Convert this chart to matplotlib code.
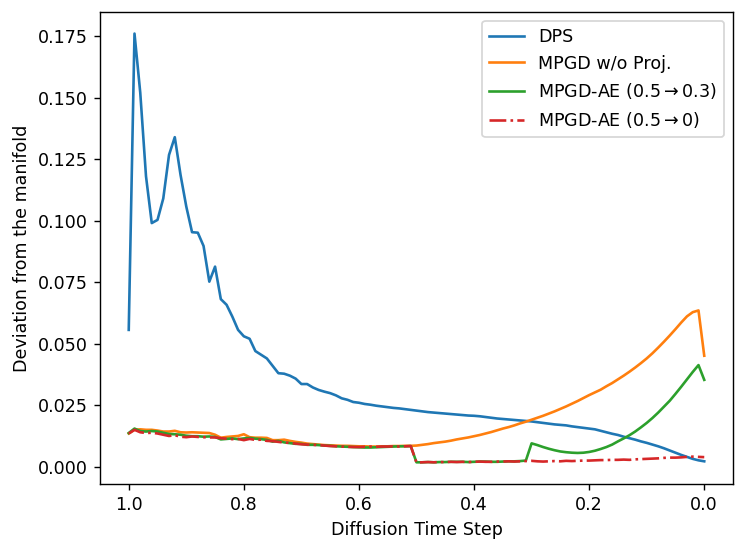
import numpy as np
import matplotlib
matplotlib.use("Agg")
import matplotlib.pyplot as plt

# time steps go from 1.0 down to 0.0
t = np.linspace(1.0, 0.0, 101)

dps = [0.0556, 0.1760, 0.1520, 0.1180, 0.0990, 0.1003, 0.1090, 0.1267, 0.1339, 0.1186,
       0.1057, 0.0953, 0.0951, 0.0897, 0.0752, 0.0813, 0.0681, 0.0658, 0.0610, 0.0556,
       0.0530, 0.0520, 0.0470, 0.0455, 0.0440, 0.0410, 0.0380, 0.0378, 0.0370, 0.0358,
       0.0336, 0.0336, 0.0322, 0.0312, 0.0305, 0.0299, 0.0290, 0.0278, 0.0272, 0.0263,
       0.0260, 0.0255, 0.0252, 0.0248, 0.0245, 0.0242, 0.0239, 0.0237, 0.0234, 0.0231,
       0.0228, 0.0225, 0.0222, 0.0220, 0.0218, 0.0216, 0.0214, 0.0212, 0.0210, 0.0208,
       0.0207, 0.0205, 0.0202, 0.0199, 0.0196, 0.0194, 0.0192, 0.0190, 0.0188, 0.0186,
       0.0184, 0.0181, 0.0178, 0.0175, 0.0172, 0.0170, 0.0168, 0.0164, 0.0161, 0.0158,
       0.0155, 0.0152, 0.0146, 0.0140, 0.0134, 0.0129, 0.0122, 0.0116, 0.0110, 0.0103,
       0.0097, 0.0090, 0.0083, 0.0075, 0.0066, 0.0057, 0.0048, 0.0040, 0.0032, 0.0026,
       0.0022]

mpgd_noproj = [0.0135, 0.0150, 0.0152, 0.0150, 0.0150, 0.0147, 0.0143, 0.0143, 0.0146, 0.0140,
               0.0139, 0.0140, 0.0139, 0.0138, 0.0137, 0.0130, 0.0118, 0.0121, 0.0123, 0.0125,
               0.0132, 0.0120, 0.0118, 0.0118, 0.0117, 0.0108, 0.0108, 0.0110, 0.0105, 0.0101,
               0.0098, 0.0094, 0.0092, 0.0090, 0.0088, 0.0087, 0.0086, 0.0085, 0.0085, 0.0084,
               0.0083, 0.0083, 0.0082, 0.0082, 0.0083, 0.0083, 0.0084, 0.0084, 0.0085, 0.0085,
               0.0086, 0.0089, 0.0092, 0.0096, 0.0099, 0.0102, 0.0106, 0.0111, 0.0115, 0.0119,
               0.0124, 0.0129, 0.0135, 0.0141, 0.0148, 0.0155, 0.0161, 0.0168, 0.0176, 0.0183,
               0.0191, 0.0199, 0.0207, 0.0216, 0.0225, 0.0235, 0.0245, 0.0256, 0.0267, 0.0279,
               0.0291, 0.0302, 0.0313, 0.0327, 0.0340, 0.0355, 0.0370, 0.0386, 0.0403, 0.0421,
               0.0440, 0.0461, 0.0484, 0.0508, 0.0533, 0.0559, 0.0586, 0.0611, 0.0628, 0.0635,
               0.0451]

mpgd_ae_03 = [0.0137, 0.0155, 0.0145, 0.0143, 0.0145, 0.0143, 0.0138, 0.0133, 0.0132, 0.0130,
              0.0126, 0.0124, 0.0124, 0.0122, 0.0123, 0.0121, 0.0111, 0.0113, 0.0115, 0.0112,
              0.0115, 0.0117, 0.0114, 0.0112, 0.0109, 0.0102, 0.0105, 0.0099, 0.0096, 0.0093,
              0.0093, 0.0089, 0.0089, 0.0088, 0.0086, 0.0085, 0.0083, 0.0082, 0.0081, 0.0080,
              0.0079, 0.0078, 0.0078, 0.0079, 0.0080, 0.0081, 0.0082, 0.0083, 0.0083, 0.0084,
              0.0018, 0.0018, 0.0019, 0.0018, 0.0019, 0.0019, 0.0020, 0.0020, 0.0020, 0.0019,
              0.0020, 0.0021, 0.0021, 0.0020, 0.0020, 0.0021, 0.0022, 0.0022, 0.0023, 0.0025,
              0.0095, 0.0088, 0.0080, 0.0073, 0.0067, 0.0062, 0.0059, 0.0057, 0.0056, 0.0057,
              0.0060, 0.0065, 0.0072, 0.0080, 0.0090, 0.0103, 0.0115, 0.0128, 0.0143, 0.0160,
              0.0178, 0.0198, 0.0220, 0.0244, 0.0268, 0.0296, 0.0325, 0.0355, 0.0385, 0.0413,
              0.0353]

mpgd_ae_0 = [0.0135, 0.0150, 0.0140, 0.0137, 0.0138, 0.0135, 0.0130, 0.0125, 0.0128, 0.0122,
             0.0120, 0.0123, 0.0121, 0.0120, 0.0119, 0.0119, 0.0116, 0.0114, 0.0112, 0.0113,
             0.0108, 0.0113, 0.0109, 0.0110, 0.0105, 0.0104, 0.0101, 0.0098, 0.0097, 0.0094,
             0.0091, 0.0090, 0.0089, 0.0088, 0.0086, 0.0084, 0.0083, 0.0082, 0.0081, 0.0080,
             0.0080, 0.0081, 0.0082, 0.0081, 0.0082, 0.0082, 0.0083, 0.0082, 0.0083, 0.0084,
             0.0017, 0.0018, 0.0019, 0.0018, 0.0019, 0.0019, 0.0020, 0.0019, 0.0020, 0.0019,
             0.0020, 0.0021, 0.0020, 0.0020, 0.0021, 0.0021, 0.0022, 0.0021, 0.0022, 0.0023,
             0.0024, 0.0022, 0.0021, 0.0022, 0.0023, 0.0022, 0.0024, 0.0023, 0.0024, 0.0025,
             0.0025, 0.0026, 0.0027, 0.0027, 0.0028, 0.0028, 0.0029, 0.0028, 0.0030, 0.0031,
             0.0032, 0.0033, 0.0034, 0.0036, 0.0037, 0.0037, 0.0038, 0.0040, 0.0041, 0.0040,
             0.0039]

DPI = 126
fig, ax = plt.subplots(figsize=(746 / DPI, 551 / DPI), dpi=DPI)
fig.subplots_adjust(left=0.134, right=0.9826, top=0.978, bottom=0.1216)

ax.plot(t, dps, label="DPS")
ax.plot(t, mpgd_noproj, label="MPGD w/o Proj.")
ax.plot(t, mpgd_ae_03, label=r"MPGD-AE (0.5$\rightarrow$0.3)")
ax.plot(t, mpgd_ae_0, "-.", label=r"MPGD-AE (0.5$\rightarrow$0)")

ax.invert_xaxis()
ax.set_xlabel("Diffusion Time Step")
ax.set_ylabel("Deviation from the manifold")
ax.legend(loc="upper right")

fig.savefig("out.png", dpi=DPI)
